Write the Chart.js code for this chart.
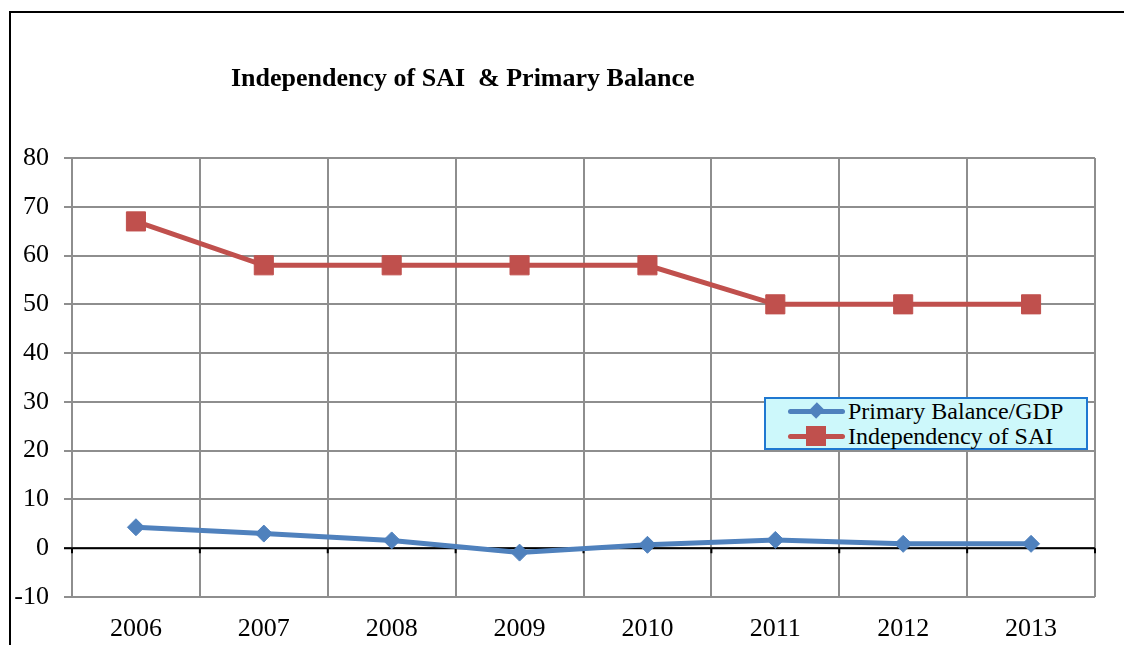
<!DOCTYPE html>
<html>
<head>
<meta charset="utf-8">
<script src="https://cdn.jsdelivr.net/npm/chart.js@4/dist/chart.umd.min.js"></script>
<style>
  html, body { margin: 0; padding: 0; background: #fff; overflow: hidden; }
  #wrap { position: relative; width: 1124px; height: 645px; font-family: 'Liberation Serif', 'Times New Roman', serif; }
  #frame { position: absolute; left: 9px; top: 11px; width: 1300px; height: 800px; border: 2px solid #000; }
  #title { position: absolute; left: 231px; top: 65px; font-weight: bold; font-size: 26px; line-height: 26px; white-space: pre; color: #000; }
  canvas { position: absolute; left: 0; top: 0; }
  #legend { position: absolute; left: 764px; top: 397px; width: 320px; height: 49px; background: #cdf8fb; border: 2px solid #1f78d1; }
  #legend .item { position: absolute; left: 0; width: 100%; height: 25px; }
  #legend .sample { position: absolute; left: 22px; top: 10px; width: 57px; height: 5px; border-radius: 3px; }
  #legend .mark { position: absolute; }
  #legend .label { position: absolute; left: 82px; top: 0; font-size: 24px; line-height: 25px; white-space: nowrap; color: #000; }
</style>
</head>
<body>
<div id="wrap">
  <div id="frame"></div>
  <canvas id="chart" width="1124" height="645"></canvas>
  <div id="title">Independency of SAI  &amp; Primary Balance</div>
  <div id="legend"></div>
</div>
<script>
const years = ['2006', '2007', '2008', '2009', '2010', '2011', '2012', '2013'];
const primaryBalance = [4.3, 3.0, 1.6, -0.9, 0.7, 1.7, 0.9, 0.9];
const independency = [67, 58, 58, 58, 58, 50, 50, 50];
const yMin = -10, yMax = 80, yStep = 10;

const gridGray = '#8e8e8e';

// black category axis crossing at 0, with small ticks between categories
const zeroAxis = {
  id: 'zeroAxis',
  beforeDatasetsDraw(chart) {
    const { ctx, chartArea, scales: { x, y } } = chart;
    const y0 = y.getPixelForValue(0);
    ctx.save();
    ctx.strokeStyle = '#000';
    ctx.lineWidth = 2;
    ctx.beginPath();
    ctx.moveTo(chartArea.left - 8, y0);
    ctx.lineTo(chartArea.right, y0);
    for (let i = 0; i <= years.length; i++) {
      const px = x.getPixelForValue(i - 0.5);
      ctx.moveTo(px, y0);
      ctx.lineTo(px, y0 + 5);
    }
    ctx.stroke();
    ctx.restore();
  }
};

// html legend box inside the plot area
const htmlLegend = {
  id: 'htmlLegend',
  afterUpdate(chart) {
    const box = document.getElementById('legend');
    box.innerHTML = '';
    chart.data.datasets.forEach((ds, i) => {
      const item = document.createElement('div');
      item.className = 'item';
      item.style.top = (i * 25) + 'px';
      const line = document.createElement('div');
      line.className = 'sample';
      line.style.background = ds.borderColor;
      const mark = document.createElement('div');
      mark.className = 'mark';
      mark.style.background = ds.pointBackgroundColor;
      if (ds.pointStyle === 'rectRot') {
        mark.style.cssText += 'left:45px;top:6px;width:11px;height:11px;transform:rotate(45deg) scaleY(1.1);';
      } else {
        mark.style.cssText += 'left:40px;top:2px;width:20px;height:20px;';
      }
      const label = document.createElement('div');
      label.className = 'label';
      label.textContent = ds.label;
      item.appendChild(line);
      item.appendChild(mark);
      item.appendChild(label);
      box.appendChild(item);
    });
  }
};

new Chart(document.getElementById('chart'), {
  type: 'line',
  data: {
    labels: years,
    datasets: [
      {
        label: 'Primary Balance/GDP',
        data: primaryBalance,
        borderColor: '#4f81bd',
        backgroundColor: '#4f81bd',
        pointBackgroundColor: '#4f81bd',
        pointBorderColor: '#4f81bd',
        borderWidth: 5,
        pointStyle: 'rectRot',
        pointRadius: 8.5,
        pointBorderWidth: 1,
        tension: 0
      },
      {
        label: 'Independency of SAI',
        data: independency,
        borderColor: '#c0504d',
        backgroundColor: '#c0504d',
        pointBackgroundColor: '#c0504d',
        pointBorderColor: '#c0504d',
        borderWidth: 5,
        pointStyle: 'rect',
        pointRadius: 13.5,
        pointBorderWidth: 1,
        tension: 0
      }
    ]
  },
  options: {
    responsive: false,
    animation: false,
    layout: { padding: { top: 158, right: 29, bottom: 0, left: 0 } },
    plugins: {
      legend: { display: false },
      title: { display: false },
      tooltip: { enabled: false }
    },
    scales: {
      x: {
        offset: true,
        border: { display: false },
        grid: {
          offset: true,
          color: gridGray,
          lineWidth: 2,
          drawTicks: false
        },
        ticks: {
          padding: 17,
          color: '#000',
          font: { family: "'Liberation Serif', 'Times New Roman', serif", size: 26 }
        },
        afterFit(scale) { scale.height = 48; }
      },
      y: {
        min: yMin,
        max: yMax,
        border: { display: false },
        grid: {
          color: gridGray,
          lineWidth: 2,
          tickLength: 8,
          drawTicks: true
        },
        ticks: {
          stepSize: yStep,
          padding: 15,
          color: '#000',
          font: { family: "'Liberation Serif', 'Times New Roman', serif", size: 26 }
        },
        afterFit(scale) { scale.width = 72; }
      }
    }
  },
  plugins: [zeroAxis, htmlLegend]
});
</script>
</body>
</html>
